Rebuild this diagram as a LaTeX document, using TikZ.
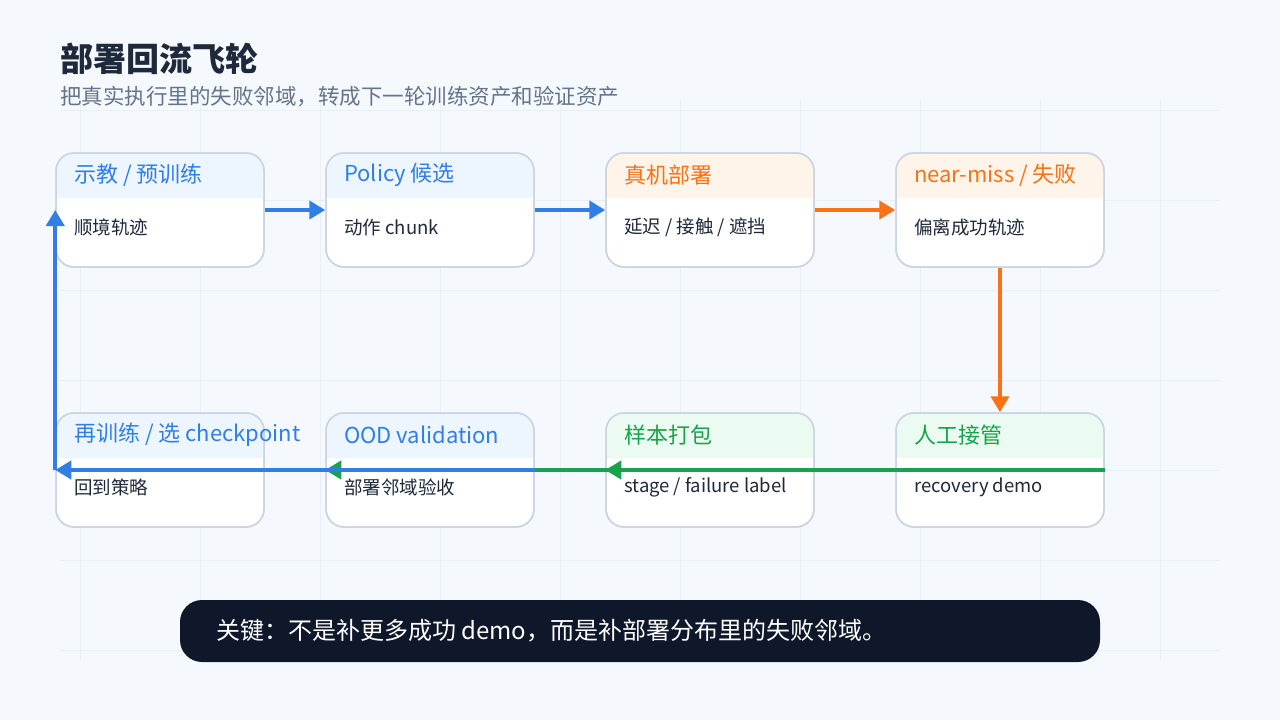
\documentclass[tikz,border=0pt]{standalone}
\usepackage{fontspec}
\setmainfont{Noto Sans CJK SC}
\usetikzlibrary{arrows.meta}
\definecolor{bg}{HTML}{F5F9FD}
\definecolor{gridc}{HTML}{E9EFF6}
\definecolor{bd}{HTML}{CBD5E1}
\definecolor{ink}{HTML}{1E293B}
\definecolor{sub}{HTML}{64748B}
\definecolor{cB}{HTML}{2F7FE6}
\definecolor{cO}{HTML}{F97316}
\definecolor{cG}{HTML}{16A34A}
\definecolor{hB}{HTML}{EDF5FF}
\definecolor{hO}{HTML}{FFF4EA}
\definecolor{hG}{HTML}{ECFBF1}
\definecolor{dark}{HTML}{0F172A}
\tikzset{
 card/.style={draw=bd,line width=1.5pt,fill=white,rounded corners=18pt,minimum width=208pt,minimum height=114pt,inner sep=0pt},
 head/.style={anchor=west,font=\fontsize{22}{24}\selectfont,inner sep=0pt},
 body/.style={anchor=west,font=\fontsize{18.5}{22}\selectfont,text=ink,inner sep=0pt},
 arr/.style={line width=4pt,-{Triangle[length=16pt,width=18pt]}},
}
\newcommand{\mycard}[7]{%
 \node[card] (#1) at (#2+104,#3+57) {};
 \fill[#4] (#2+0.75,#3+45) [rounded corners=17pt]-- (#2+0.75,#3+0.75) -- (#2+207.25,#3+0.75) [sharp corners]-- (#2+207.25,#3+45) -- cycle;
 \draw[bd,line width=1.5pt,rounded corners=18pt] (#2,#3) rectangle (#2+208,#3+114);
 \node[head,text=#5] (#1h) at (#2+18,#3+22) {#6};
 \node[body] (#1b) at (#2+18,#3+74) {#7};
}
\begin{document}
\begin{tikzpicture}[x=1pt,y=-1pt]
\fill[bg] (0,0) rectangle (1280,720);
\useasboundingbox (0,0) rectangle (1280,720);
\foreach \x in {80,200,...,1200} \draw[gridc,line width=1pt] (\x,100) -- (\x,660);
\foreach \y in {110,200,...,650} \draw[gridc,line width=1pt] (60,\y) -- (1220,\y);
\node[anchor=west,inner sep=0pt,font=\fontsize{33}{36}\selectfont\bfseries,text=ink] (title) at (60,59) {部署回流飞轮};
\node[anchor=west,inner sep=0pt,font=\fontsize{21.5}{24}\selectfont,text=sub] (subt) at (60,97) {把真实执行里的失败邻域，转成下一轮训练资产和验证资产};
\mycard{a}{56}{153}{hB}{cB}{示教 / 预训练}{顺境轨迹}
\mycard{b}{326}{153}{hB}{cB}{Policy 候选}{动作 chunk}
\mycard{c}{606}{153}{hO}{cO}{真机部署}{延迟 / 接触 / 遮挡}
\mycard{d}{896}{153}{hO}{cO}{near-miss / 失败}{偏离成功轨迹}
\mycard{e}{896}{413}{hG}{cG}{人工接管}{recovery demo}
\mycard{f}{606}{413}{hG}{cG}{样本打包}{stage / failure label}
\mycard{g}{326}{413}{hB}{cB}{OOD validation}{部署邻域验收}
\mycard{h}{56}{413}{hB}{cB}{再训练 / 选 checkpoint}{回到策略}
\draw[arr,cB] (a.east|-0,210) -- (b.west|-0,210);
\draw[arr,cB] (b.east|-0,210) -- (c.west|-0,210);
\draw[arr,cO] (c.east|-0,210) -- (d.west|-0,210);
\draw[arr,cO] (d.south) -- (e.north);
\draw[arr,cG] (e.east|-0,470) -- (f.west|-0,470);
\draw[arr,cG] (f.east|-0,470) -- (g.west|-0,470);
\draw[arr,cB] (g.east|-0,470) -- (h.west|-0,470);
\draw[arr,cB] (h.west|-0,470) -- (a.west|-0,210);
\node[fill=dark,rounded corners=22pt,minimum width=920pt,minimum height=62pt,inner sep=0pt] (bar) at (640,631) {};
\node[anchor=west,inner sep=0pt,text=white,font=\fontsize{24}{28}\selectfont] (bart) at (216,631) {关键：不是补更多成功 demo，而是补部署分布里的失败邻域。};
\end{tikzpicture}
\end{document}
